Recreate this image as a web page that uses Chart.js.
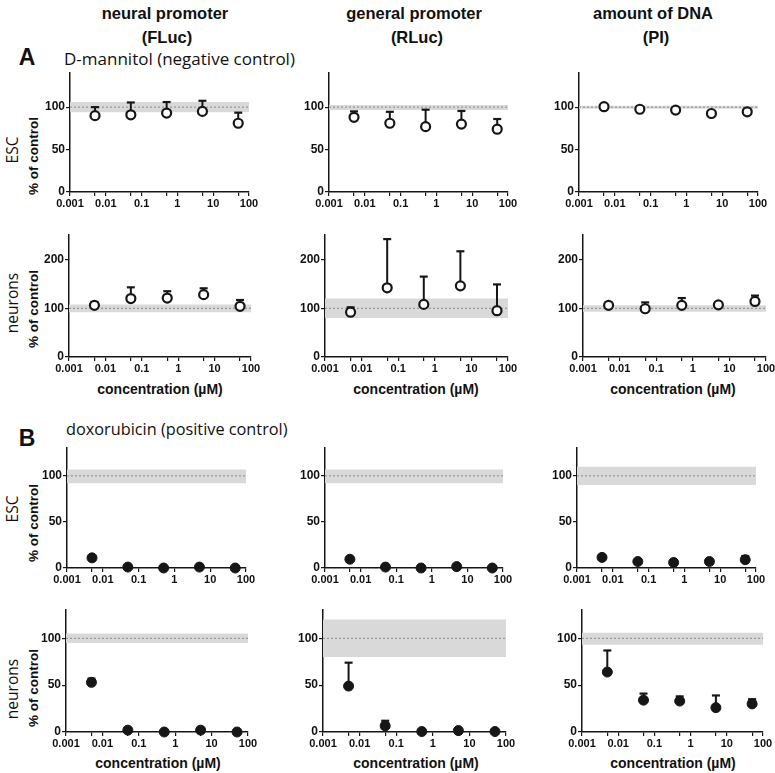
<!DOCTYPE html>
<html><head><meta charset="utf-8">
<script src="https://cdn.jsdelivr.net/npm/chart.js@4.4.1/dist/chart.umd.min.js"></script>
<style>
body{margin:0;background:#fff;width:775px;height:773px;position:relative;overflow:hidden;font-family:"Liberation Sans",Arial,sans-serif;color:#111}
.t{position:absolute;white-space:nowrap;transform:translate(-50%,-50%)}
.l{position:absolute;white-space:nowrap;transform:translate(0,-50%)}
.r{position:absolute;white-space:nowrap;transform:translate(-50%,-50%) rotate(-90deg)}
.hd{font-weight:bold;font-size:16.5px}
.os{font-family:"Open Sans",sans-serif}
canvas{position:absolute}
</style></head><body>
<div class="t hd" style="left:165px;top:13px">neural promoter</div>
<div class="t hd" style="left:167px;top:37px">(FLuc)</div>
<div class="t hd" style="left:414px;top:13px">general promoter</div>
<div class="t hd" style="left:417px;top:37px">(RLuc)</div>
<div class="t hd" style="left:653px;top:13px">amount of DNA</div>
<div class="t hd" style="left:656px;top:37px">(PI)</div>
<div class="t" style="left:27px;top:57px;font-weight:bold;font-size:23px">A</div>
<div class="l os" style="left:64px;top:58px;font-size:17px">D-mannitol (negative control)</div>
<div class="t" style="left:27px;top:438px;font-weight:bold;font-size:23px">B</div>
<div class="l os" style="left:66px;top:429px;font-size:16.3px">doxorubicin (positive control)</div>
<div class="r os" style="left:12px;top:150px;font-size:15.5px">ESC</div>
<div class="r" style="left:33px;top:156px;font-size:13.5px;font-weight:bold">% of control</div>
<div class="r os" style="left:12px;top:303px;font-size:15.5px">neurons</div>
<div class="r" style="left:33px;top:309px;font-size:13.5px;font-weight:bold">% of control</div>
<div class="r os" style="left:12px;top:509px;font-size:15.5px">ESC</div>
<div class="r" style="left:33px;top:523px;font-size:13.5px;font-weight:bold">% of control</div>
<div class="r os" style="left:12px;top:689px;font-size:15.5px">neurons</div>
<div class="r" style="left:33px;top:688px;font-size:13.5px;font-weight:bold">% of control</div>
<div class="t" style="left:160px;top:389px;font-size:14px;font-weight:bold">concentration (µM)</div>
<div class="t" style="left:416px;top:389px;font-size:14px;font-weight:bold">concentration (µM)</div>
<div class="t" style="left:673px;top:389px;font-size:14px;font-weight:bold">concentration (µM)</div>
<div class="t" style="left:158px;top:763px;font-size:14px;font-weight:bold">concentration (µM)</div>
<div class="t" style="left:416px;top:763px;font-size:14px;font-weight:bold">concentration (µM)</div>
<div class="t" style="left:673px;top:763px;font-size:14px;font-weight:bold">concentration (µM)</div>
<script>
// ---- data ----
const concentrations = [0.005, 0.05, 0.5, 5, 50];
const xTickValues = [0.001, 0.005, 0.01, 0.05, 0.1, 0.5, 1, 5, 10, 50, 100];
const xTickLabels = ['0.001', '0.01', '0.1', '1', '10', '100'];
const xRange = [0.001, 100];
const controlLevel = 100;
const yTicksESC_A = [0, 50, 100];
const yTicksNeur_A = [0, 100, 200];
const yTicksB = [0, 50, 100];

// A: D-mannitol, ESC
const manEscFLuc = [90, 91, 93, 95, 81];
const manEscFLucErr = [100, 105.5, 106, 107.5, 93.5];
const manEscFLucBand = [94, 106];
const manEscRLuc = [88, 81, 77, 80, 74];
const manEscRLucErr = [95, 94.5, 97, 95.5, 86];
const manEscRLucBand = [96.5, 102.5];
const manEscPI = [100.5, 97.5, 96.5, 92.5, 94.5];
const manEscPIErr = [null, null, 99, null, null];
const manEscPIBand = [98, 101.5];
// A: D-mannitol, neurons
const manNeuFLuc = [106, 120, 121, 128, 104];
const manNeuFLucErr = [113, 143, 135, 141, 117];
const manNeuFLucBand = [92, 108];
const manNeuRLuc = [92, 142, 108, 146, 95];
const manNeuRLucErr = [102, 242, 165, 217, 149];
const manNeuRLucBand = [80, 120];
const manNeuPI = [106, 99, 106, 107, 114];
const manNeuPIErr = [112, 112, 121, null, 126];
const manNeuPIBand = [93, 106];
// B: doxorubicin, ESC
const doxEscFLuc = [11, 1, 0, 1, 0];
const doxEscFLucErr = [null, null, null, null, null];
const doxEscFLucBand = [92, 107];
const doxEscRLuc = [9.5, 1, 0, 1.5, 0];
const doxEscRLucErr = [null, null, null, null, null];
const doxEscRLucBand = [92, 107];
const doxEscPI = [11.5, 7, 6, 7, 9];
const doxEscPIErr = [null, null, null, null, 13];
const doxEscPIBand = [90, 110];
// B: doxorubicin, neurons
const doxNeuFLuc = [53, 2, 0, 2, 0];
const doxNeuFLucErr = [57, null, null, null, null];
const doxNeuFLucBand = [95, 105];
const doxNeuRLuc = [49, 6.5, 0.5, 1.5, 0.5];
const doxNeuRLucErr = [74, 12, null, null, null];
const doxNeuRLucBand = [80, 120];
const doxNeuPI = [64, 34, 33, 26, 30];
const doxNeuPIErr = [87, 41, 38, 39, 35];
const doxNeuPIBand = [93, 106];

// ---- layout (positions only) ----
const rows = [
  {t: 73, b: 192, max: 140, ticks: yTicksESC_A, filled: false, cols: [[70, 249], [329, 508], [579, 758]],
   sets: [[manEscFLuc, manEscFLucErr, manEscFLucBand], [manEscRLuc, manEscRLucErr, manEscRLucBand], [manEscPI, manEscPIErr, manEscPIBand]]},
  {t: 235, b: 357, max: 250, ticks: yTicksNeur_A, filled: false, cols: [[69, 251], [325, 508], [583, 766]],
   sets: [[manNeuFLuc, manNeuFLucErr, manNeuFLucBand], [manNeuRLuc, manNeuRLucErr, manNeuRLucBand], [manNeuPI, manNeuPIErr, manNeuPIBand]]},
  {t: 448, b: 568, max: 130, ticks: yTicksB, filled: true, cols: [[67, 246], [325, 503], [577, 756]],
   sets: [[doxEscFLuc, doxEscFLucErr, doxEscFLucBand], [doxEscRLuc, doxEscRLucErr, doxEscRLucBand], [doxEscPI, doxEscPIErr, doxEscPIBand]]},
  {t: 610, b: 732, max: 130, ticks: yTicksB, filled: true, cols: [[66, 248], [323, 506], [582, 763]],
   sets: [[doxNeuFLuc, doxNeuFLucErr, doxNeuFLucBand], [doxNeuRLuc, doxNeuRLucErr, doxNeuRLucBand], [doxNeuPI, doxNeuPIErr, doxNeuPIBand]]}
];
const YW = 44, PT = 8, PR = 16, XH = 22;
const ink = '#161616';

function makePanel(row, col, vals, errs, band) {
  const [l, r] = col;
  const cv = document.createElement('canvas');
  const w = (r - l) + YW + PR, h = (row.b - row.t) + PT + XH;
  cv.width = w; cv.height = h;
  cv.style.left = (l - YW) + 'px'; cv.style.top = (row.t - PT) + 'px';
  cv.style.width = w + 'px'; cv.style.height = h + 'px';
  document.body.appendChild(cv);

  const pts = concentrations.map((x, i) => ({x, y: vals[i]}));
  const caps = [];
  const whisk = [];
  concentrations.forEach((x, i) => {
    if (errs[i] !== null) {
      caps.push({x, y: errs[i]});
      whisk.push({x, y: vals[i]}, {x, y: errs[i]}, {x, y: null});
    }
  });

  new Chart(cv, {
    type: 'scatter',
    data: {datasets: [
      {data: pts, order: 0, clip: false, pointStyle: 'circle',
       pointRadius: row.filled ? 5 : 4.5, pointBorderWidth: row.filled ? 1 : 2.2,
       pointBorderColor: ink, pointBackgroundColor: row.filled ? ink : '#fff'},
      {data: caps, order: 1, clip: false, pointStyle: 'line', pointRadius: 4,
       pointBorderWidth: 2.2, pointBorderColor: ink, borderColor: ink},
      {data: whisk, order: 2, clip: false, showLine: true, spanGaps: false, pointRadius: 0,
       borderWidth: 2, borderColor: ink},
      {data: [{x: xRange[0], y: controlLevel}, {x: xRange[1], y: controlLevel}], order: 3,
       showLine: true, pointRadius: 0, borderWidth: 1, borderColor: '#8a8a8a', borderDash: [2, 2]},
      {data: [{x: xRange[0], y: band[1]}, {x: xRange[1], y: band[1]}], order: 4,
       showLine: true, pointRadius: 0, borderWidth: 0, borderColor: 'rgba(0,0,0,0)',
       fill: {value: band[0]}, backgroundColor: '#d9d9d9'}
    ]},
    options: {
      responsive: false, animation: false, devicePixelRatio: 1,
      layout: {padding: {left: 0, top: PT, right: PR, bottom: 0}},
      plugins: {legend: {display: false}, tooltip: {enabled: false}},
      scales: {
        x: {type: 'logarithmic', min: xRange[0], max: xRange[1],
            afterBuildTicks: s => { s.ticks = xTickValues.map(v => ({value: v})); },
            afterFit: s => { s.height = XH; },
            border: {display: true, color: ink, width: 1.5},
            grid: {display: true, drawOnChartArea: false, drawTicks: true, tickLength: 4, color: ink, lineWidth: 1.2},
            ticks: {autoSkip: false, maxRotation: 0, padding: 1, color: '#111',
                    font: {family: '"Liberation Sans", Arial', size: 11, weight: 'bold'},
                    callback: v => { const s = xTickLabels.find(t => Math.abs(Number(t) - v) < 1e-9); return s || ''; }}},
        y: {type: 'linear', min: 0, max: row.max,
            afterBuildTicks: s => { s.ticks = row.ticks.map(v => ({value: v})); },
            afterFit: s => { s.width = YW; },
            border: {display: true, color: ink, width: 1.5},
            grid: {display: true, drawOnChartArea: false, drawTicks: true, tickLength: 4, color: ink, lineWidth: 1.2},
            ticks: {padding: 1, color: '#111',
                    font: {family: '"Liberation Sans", Arial', size: 12, weight: 'bold'}}}
      }
    }
  });
}

rows.forEach(row => row.cols.forEach((col, ci) => {
  const [v, e, b] = row.sets[ci];
  makePanel(row, col, v, e, b);
}));
</script>
</body></html>
